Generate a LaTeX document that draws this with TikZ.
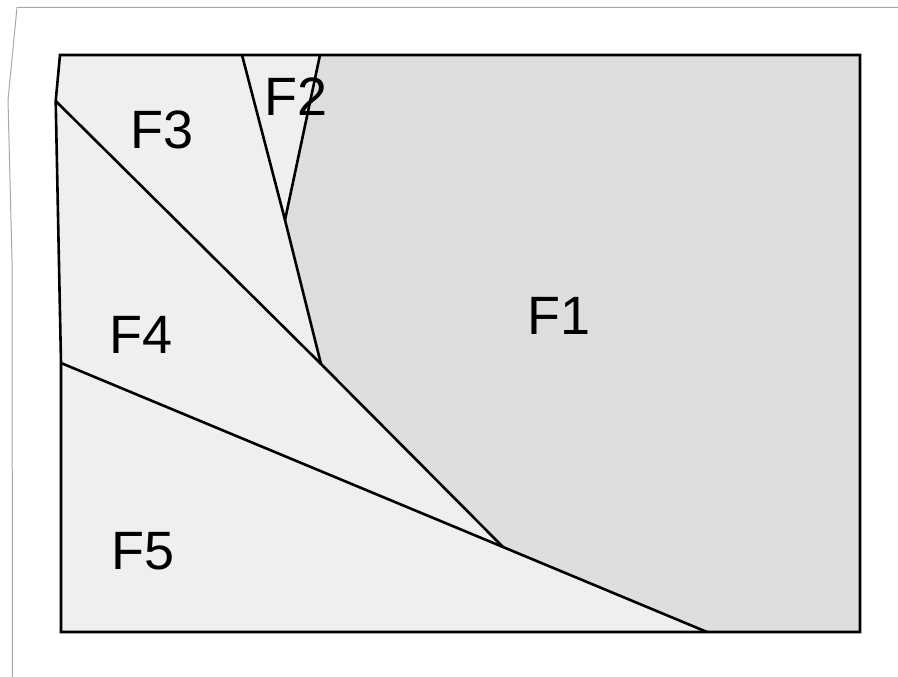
\documentclass[tikz,border=0pt]{standalone}
\usepackage{fontspec}
\setmainfont{Liberation Sans}
\definecolor{darkface}{HTML}{DEDEDE}
\definecolor{lightface}{HTML}{EFEFEF}
\definecolor{frameline}{HTML}{A8A8A8}
\begin{document}
\begin{tikzpicture}[x=1pt,y=-1pt,
  edge/.style={draw=black,line width=2.6pt,line join=miter},
  lbl/.style={anchor=base,inner sep=0pt,font=\fontsize{54}{60}\selectfont}]
\useasboundingbox (0,0) rectangle (898,677);
% outer thin frame
\draw[frameline,line width=1pt] (898,7.5) -- (17,7.5) -- (8,100) -- (12,260) -- (12.5,677);
% vertices
\coordinate (tl) at (60,55);
\coordinate (tr) at (860,55);
\coordinate (br) at (860,632);
\coordinate (bl) at (61,632);
\coordinate (lu) at (55.7,101);
\coordinate (lm) at (61,363);
\coordinate (t23) at (242,55);
\coordinate (t21) at (320,55);
\coordinate (p2) at (285,220);
\coordinate (p3) at (321,364);
\coordinate (p4) at (503,547);
\coordinate (b5) at (707,632);
% faces
\fill[darkface] (t21) -- (tr) -- (br) -- (b5) -- (p4) -- (p3) -- (p2) -- cycle;
\fill[lightface] (t23) -- (t21) -- (p2) -- cycle;
\fill[lightface] (tl) -- (t23) -- (p2) -- (p3) -- (lu) -- cycle;
\fill[lightface] (lu) -- (p3) -- (p4) -- (lm) -- cycle;
\fill[lightface] (lm) -- (p4) -- (b5) -- (bl) -- cycle;
% edges
\draw[edge] (tl) -- (tr) -- (br) -- (bl) -- (lm) -- (lu) -- cycle;
\draw[edge] (t23) -- (p2) -- (p3);
\draw[edge] (t21) -- (p2);
\draw[edge] (lu) -- (p3) -- (p4);
\draw[edge] (lm) -- (p4) -- (b5);
% labels
\node[lbl] (f1) at (559,334) {F1};
\node[lbl] (f2) at (296,116) {F2};
\node[lbl] (f3) at (162,149) {F3};
\node[lbl] (f4) at (141.5,353) {F4};
\node[lbl] (f5) at (143.5,569) {F5};
\end{tikzpicture}
\end{document}
